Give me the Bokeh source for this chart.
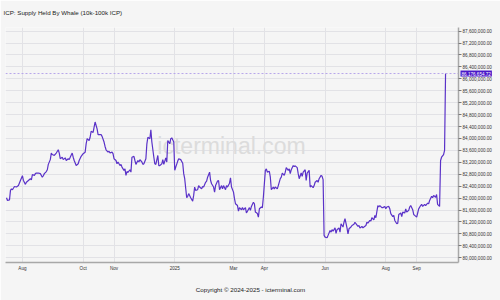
import pandas as pd
from bokeh.plotting import figure
from bokeh.models import (FixedTicker, NumeralTickFormatter, Span, Label, Range1d,
                          ColumnDataSource)
from bokeh.embed import file_html
from bokeh.resources import INLINE

# ---------------- data ----------------
title_text = "ICP: Supply Held By Whale (10k-100k ICP)"
copyright_text = "Copyright \u00a9 2024-2025 - icterminal.com"
watermark_text = "icterminal.com"

dates = [
    "2024-07-16", "2024-07-17", "2024-07-19", "2024-07-20", "2024-07-21", "2024-07-22", "2024-07-24", "2024-07-26", "2024-07-28", "2024-07-30",
    "2024-08-01", "2024-08-02", "2024-08-04", "2024-08-05", "2024-08-07", "2024-08-09", "2024-08-10", "2024-08-11", "2024-08-13", "2024-08-14",
    "2024-08-15", "2024-08-17", "2024-08-19", "2024-08-21", "2024-08-22", "2024-08-23", "2024-08-25", "2024-08-26", "2024-08-27", "2024-08-29",
    "2024-08-30", "2024-08-31",
    "2024-09-02", "2024-09-04", "2024-09-06", "2024-09-07", "2024-09-08", "2024-09-10", "2024-09-11", "2024-09-13", "2024-09-14", "2024-09-16",
    "2024-09-17", "2024-09-18", "2024-09-20", "2024-09-21", "2024-09-22", "2024-09-24", "2024-09-26", "2024-09-27", "2024-09-29",
    "2024-10-01", "2024-10-03", "2024-10-04", "2024-10-05", "2024-10-07", "2024-10-08", "2024-10-09", "2024-10-11", "2024-10-12", "2024-10-13",
    "2024-10-15", "2024-10-16", "2024-10-19", "2024-10-20", "2024-10-22", "2024-10-23", "2024-10-24", "2024-10-26", "2024-10-27", "2024-10-28",
    "2024-10-30", "2024-10-31",
    "2024-11-01", "2024-11-03", "2024-11-04", "2024-11-05", "2024-11-07", "2024-11-08", "2024-11-09", "2024-11-11", "2024-11-12", "2024-11-13",
    "2024-11-14", "2024-11-15", "2024-11-17", "2024-11-18", "2024-11-19", "2024-11-21", "2024-11-22", "2024-11-23", "2024-11-25", "2024-11-26",
    "2024-11-27", "2024-11-29", "2024-11-30",
    "2024-12-01", "2024-12-03", "2024-12-04", "2024-12-05", "2024-12-07", "2024-12-08", "2024-12-09", "2024-12-11", "2024-12-12", "2024-12-13",
    "2024-12-15", "2024-12-16", "2024-12-17", "2024-12-19", "2024-12-20", "2024-12-21", "2024-12-23", "2024-12-24", "2024-12-25", "2024-12-27",
    "2024-12-28", "2024-12-29", "2024-12-31",
    "2025-01-01", "2025-01-02", "2025-01-04", "2025-01-05", "2025-01-07", "2025-01-09", "2025-01-10", "2025-01-11", "2025-01-13", "2025-01-14",
    "2025-01-15", "2025-01-17", "2025-01-19", "2025-01-20", "2025-01-21", "2025-01-22", "2025-01-24", "2025-01-25", "2025-01-26", "2025-01-28",
    "2025-01-29", "2025-01-30",
    "2025-02-01", "2025-02-02", "2025-02-03", "2025-02-05", "2025-02-06", "2025-02-07", "2025-02-09", "2025-02-10", "2025-02-11", "2025-02-13",
    "2025-02-14", "2025-02-15", "2025-02-17", "2025-02-18", "2025-02-19", "2025-02-21", "2025-02-22", "2025-02-23", "2025-02-25", "2025-02-26",
    "2025-02-27",
    "2025-03-01", "2025-03-02", "2025-03-03", "2025-03-05", "2025-03-06", "2025-03-07", "2025-03-09", "2025-03-10", "2025-03-11", "2025-03-13",
    "2025-03-14", "2025-03-15", "2025-03-17", "2025-03-18", "2025-03-19", "2025-03-21", "2025-03-22", "2025-03-23", "2025-03-25", "2025-03-26",
    "2025-03-27", "2025-03-29", "2025-03-30", "2025-03-31",
    "2025-04-02", "2025-04-03", "2025-04-04", "2025-04-06", "2025-04-07", "2025-04-08", "2025-04-10", "2025-04-11", "2025-04-12", "2025-04-14",
    "2025-04-15", "2025-04-17", "2025-04-18", "2025-04-19", "2025-04-21", "2025-04-22", "2025-04-23", "2025-04-25", "2025-04-26", "2025-04-27",
    "2025-04-28", "2025-04-30",
    "2025-05-01", "2025-05-02", "2025-05-04", "2025-05-05", "2025-05-06", "2025-05-08", "2025-05-09", "2025-05-10", "2025-05-12", "2025-05-13",
    "2025-05-14", "2025-05-16", "2025-05-17", "2025-05-18", "2025-05-20", "2025-05-21", "2025-05-22", "2025-05-24", "2025-05-25", "2025-05-26",
    "2025-05-28", "2025-05-29", "2025-05-30", "2025-05-31",
    "2025-06-01", "2025-06-03", "2025-06-04", "2025-06-06", "2025-06-07", "2025-06-08", "2025-06-09", "2025-06-11", "2025-06-12", "2025-06-13",
    "2025-06-15", "2025-06-16", "2025-06-17", "2025-06-19", "2025-06-20", "2025-06-21", "2025-06-23", "2025-06-24", "2025-06-25", "2025-06-27",
    "2025-06-28", "2025-06-30",
    "2025-07-01", "2025-07-02", "2025-07-04", "2025-07-05", "2025-07-06", "2025-07-08", "2025-07-09", "2025-07-10", "2025-07-12", "2025-07-13",
    "2025-07-14", "2025-07-16", "2025-07-17", "2025-07-18", "2025-07-20", "2025-07-21", "2025-07-22", "2025-07-24", "2025-07-25", "2025-07-26",
    "2025-07-28", "2025-07-29", "2025-07-31",
    "2025-08-01", "2025-08-02", "2025-08-04", "2025-08-05", "2025-08-06", "2025-08-08", "2025-08-09", "2025-08-10", "2025-08-12", "2025-08-13",
    "2025-08-14", "2025-08-16", "2025-08-17", "2025-08-18", "2025-08-20", "2025-08-21", "2025-08-22", "2025-08-24", "2025-08-25", "2025-08-26",
    "2025-08-28", "2025-08-29", "2025-08-30",
    "2025-09-01", "2025-09-02", "2025-09-03", "2025-09-05", "2025-09-06", "2025-09-07", "2025-09-09", "2025-09-10", "2025-09-12", "2025-09-13",
    "2025-09-14", "2025-09-16", "2025-09-17", "2025-09-18", "2025-09-20", "2025-09-21", "2025-09-22", "2025-09-24", "2025-09-25", "2025-09-26",
    "2025-09-28", "2025-09-29", "2025-09-30",
]

supply_millions = [
    82.01, 81.92, 81.94, 82.26, 82.31, 82.28, 82.39, 82.37, 82.42, 82.59,
    82.75, 82.59, 82.46, 82.53, 82.59, 82.65, 82.61, 82.79, 82.76, 82.82,
    82.84, 82.84, 82.82, 82.70, 82.75, 82.82, 82.89, 82.95, 83.13, 83.29,
    83.51, 83.46,
    83.43, 83.51, 83.62, 83.51, 83.32, 83.37, 83.29, 83.35, 83.26, 83.32,
    83.29, 83.37, 83.51, 83.37, 83.26, 83.09, 83.15, 83.26, 83.40,
    83.49, 83.54, 83.82, 83.99, 83.93, 84.04, 84.24, 84.20, 84.38, 84.55,
    84.32, 84.13, 84.13, 84.07, 83.88, 83.73, 83.62, 83.54, 83.57, 83.51,
    83.54, 83.49,
    83.32, 83.26, 83.15, 83.21, 83.09, 83.13, 83.04, 82.93, 82.98, 82.76,
    82.89, 82.86, 82.95, 82.87, 83.37, 83.40, 83.26, 83.13, 83.26, 83.21,
    83.29, 83.21, 83.13,
    83.15, 83.32, 83.82, 84.04, 83.99, 84.29, 83.88, 83.37, 83.15, 83.13,
    83.43, 83.09, 83.09, 83.15, 83.29, 83.13, 83.35, 83.21, 83.93, 83.82,
    83.99, 84.02, 83.88,
    82.93, 83.04, 83.24, 83.32, 83.29, 83.17, 82.82, 82.65, 82.01, 82.06,
    82.15, 82.01, 81.90, 82.09, 82.37, 82.26, 82.28, 82.42, 82.37, 82.31,
    82.39, 82.37,
    82.53, 82.57, 82.70, 82.87, 82.59, 82.48, 82.37, 82.20, 82.42, 82.57,
    82.59, 82.28, 82.42, 82.31, 82.42, 82.28, 82.42, 82.37, 82.50, 82.68,
    82.37,
    82.20, 81.98, 81.81, 81.75, 81.56, 81.68, 81.61, 81.68, 81.61, 81.68,
    81.50, 81.56, 81.68, 81.59, 81.72, 81.86, 81.81, 81.53, 81.48, 81.36,
    81.64, 81.70, 81.68, 82.03,
    82.93, 82.98, 82.87, 82.90, 82.70, 82.28, 82.37, 82.31, 82.37, 82.31,
    82.42, 82.65, 82.70, 82.84, 82.76, 82.87, 83.02, 82.93, 82.98, 82.82,
    82.95, 83.09,
    83.06, 83.08, 83.02, 82.82, 82.65, 82.84, 82.73, 82.87, 82.95, 82.59,
    82.84, 82.93, 82.37, 82.42, 82.35, 82.42, 82.53, 82.59, 82.53, 82.65,
    82.76, 82.73, 82.62, 80.75,
    80.69, 80.67, 80.75, 80.91, 80.86, 80.94, 80.89, 81.00, 80.82, 80.94,
    81.00, 80.86, 81.14, 81.03, 81.19, 81.31, 81.00, 80.80, 80.97, 81.03,
    81.08, 81.12,
    81.19, 81.14, 81.05, 81.08, 81.00, 81.05, 81.00, 81.03, 81.08, 81.19,
    81.16, 81.25, 81.23, 81.34, 81.27, 81.42, 81.34, 81.75, 81.70, 81.75,
    81.68, 81.68, 81.72,
    81.64, 81.70, 81.72, 81.64, 81.48, 81.38, 81.42, 81.25, 81.14, 81.16,
    81.45, 81.50, 81.38, 81.53, 81.50, 81.64, 81.53, 81.59, 81.70, 81.75,
    81.61, 81.45, 81.42,
    81.36, 81.50, 81.64, 81.75, 81.79, 81.72, 81.79, 81.75, 81.83, 81.81,
    81.92, 82.06, 82.01, 82.09, 82.03, 82.12, 81.79, 81.72, 83.26, 83.37,
    83.46, 83.60, 86.17665472,
]

last_value = 86176654.72

y_ticks = list(range(80_000_000, 87_600_001, 400_000))
y_range_bounds = (79_840_000, 87_720_000)

x_tick_dates = ["2024-08-01", "2024-10-01", "2024-11-01", "2025-01-01", "2025-03-01",
                "2025-04-01", "2025-06-01", "2025-08-01", "2025-09-01"]
x_tick_labels = ["Aug", "Oct", "Nov", "2025", "Mar", "Apr", "Jun", "Aug", "Sep"]

# ---------------- styling ----------------
BG = "#f5f5f5"
LINE = "#5a32c8"
FONT = "Liberation Sans"

x = pd.to_datetime(dates)
y = [v * 1_000_000 for v in supply_millions]
y[-1] = last_value
src = ColumnDataSource(dict(x=x, y=y))

x_start = x[0] - pd.Timedelta(days=1)
x_end = x[-1] + pd.Timedelta(days=13)

p = figure(width=500, height=300, x_axis_type="datetime", y_axis_location="right",
           x_range=Range1d(x_start, x_end), y_range=Range1d(*y_range_bounds),
           output_backend="svg", toolbar_location=None,
           min_border_left=5, min_border_right=42, min_border_top=27, min_border_bottom=38,
           background_fill_color=BG, border_fill_color=BG, outline_line_color=None)

# axes
tick_ms = [int(t.timestamp() * 1000) for t in pd.to_datetime(x_tick_dates)]
p.xaxis.ticker = FixedTicker(ticks=tick_ms)
p.xaxis.major_label_overrides = {ms: lab for ms, lab in zip(tick_ms, x_tick_labels)}
p.yaxis.ticker = FixedTicker(ticks=y_ticks)
p.yaxis.formatter = NumeralTickFormatter(format="0,0.00")

for ax in (p.xaxis, p.yaxis):
    ax.axis_line_color = "#a8a8a8"
    ax.axis_line_width = 1.5
    ax.minor_tick_line_color = None
    ax.major_tick_in = 0
    ax.major_label_text_font = FONT
    ax.major_label_text_font_size = "4.6px"
    ax.major_label_text_color = "#333333"
p.xaxis.major_tick_out = 0
p.xaxis.major_label_standoff = 3
p.yaxis.major_tick_out = 3
p.yaxis.major_tick_line_color = "#777777"
p.yaxis.major_label_standoff = 1

p.xgrid.grid_line_color = "#e2e2e6"
p.ygrid.grid_line_color = "#e2e2e6"

# watermark
p.add_layout(Label(x=226, y=117, x_units="screen", y_units="screen", text=watermark_text,
                   text_font=FONT, text_font_size="23px", text_color="#dcdcdc",
                   text_align="center", text_baseline="middle", level="underlay"))

# last value marker line
p.add_layout(Span(location=last_value, dimension="width", line_color="#b7a6ea",
                  line_dash="2 2", line_width=1))

p.line("x", "y", source=src, line_color=LINE, line_width=1.2)

# last value box on the axis (side panel -> not clipped to the frame)
p.add_layout(Label(x=x_end, y=last_value, x_offset=2, text=f"{last_value:,.2f}",
                   text_font=FONT, text_font_size="4.6px", text_color="white",
                   background_fill_color="#4a18c8", text_align="left", text_baseline="middle",
                   padding=1), "above")

# title and copyright
p.add_layout(Label(x=3, y=12, x_units="canvas", y_units="canvas", text=title_text,
                   text_font=FONT, text_font_size="6.2px", text_color="#222222",
                   text_align="left", text_baseline="middle"), "above")
p.add_layout(Label(x=250, y=289, x_units="canvas", y_units="canvas", text=copyright_text,
                   text_font=FONT, text_font_size="6.2px", text_color="#222222",
                   text_align="center", text_baseline="middle"), "below")

open("out.html", "w").write(file_html(p, INLINE))
